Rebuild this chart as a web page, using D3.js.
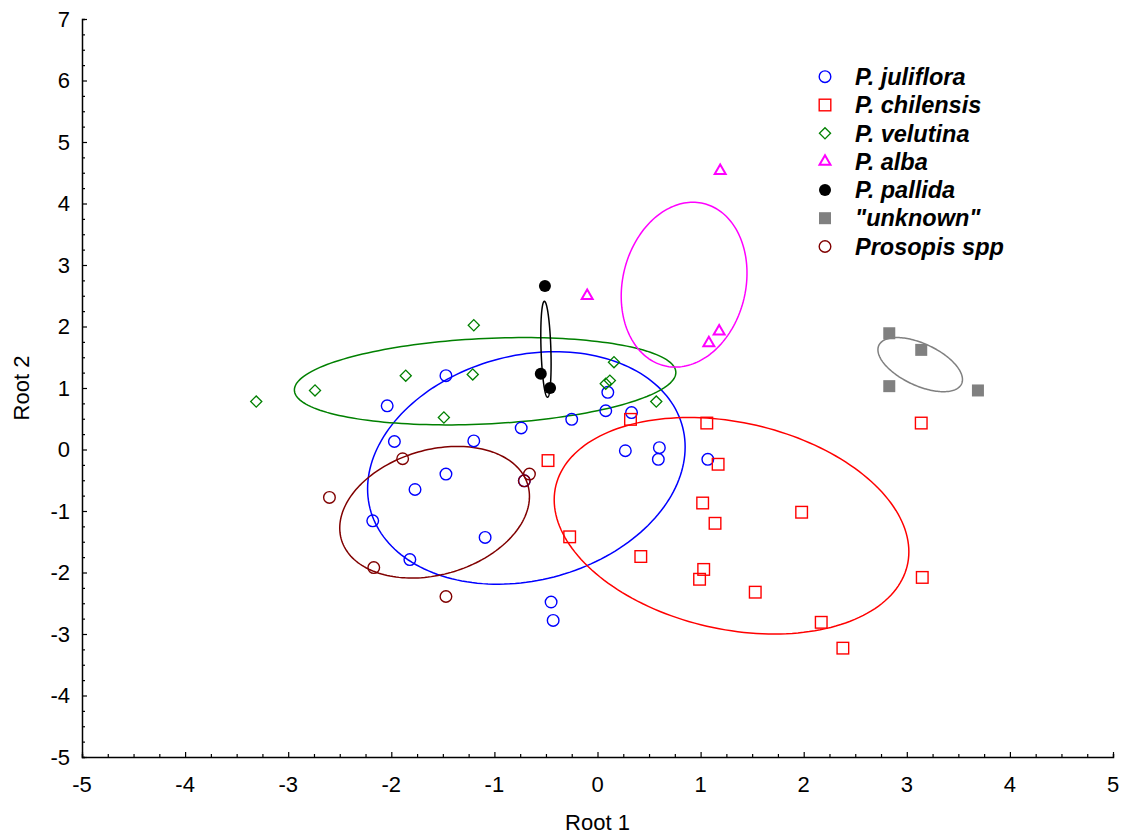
<!DOCTYPE html>
<html>
<head>
<meta charset="utf-8">
<script src="https://cdn.jsdelivr.net/npm/d3@7"></script>
<style>
  body { margin: 0; background: #fff; }
  svg { display: block; font-family: "Liberation Sans", Arial, sans-serif; }
</style>
</head>
<body>
<svg id="chart" width="1123" height="834"></svg>
<script>
// species names, in legend order
const species = ["P. juliflora", "P. chilensis", "P. velutina", "P. alba", "P. pallida", "\"unknown\"", "Prosopis spp"];

// root scores
const julifloraX = [-1.47, -2.04, -1.97, -1.20, -0.74, -0.25, 0.08, 0.10, 0.33, 0.27, 0.60, 0.59, -1.47, -1.77, -2.18, -1.09, -1.82, -0.71, -0.45, -0.43, 1.07];
const julifloraY = [1.20, 0.71, 0.13, 0.14, 0.35, 0.49, 0.63, 0.93, 0.60, -0.02, 0.03, -0.16, -0.40, -0.65, -1.16, -1.43, -1.79, -0.51, -2.48, -2.78, -0.16];

const chilensisX = [0.32, 1.06, 3.14, -0.48, 1.17, 1.02, 1.14, 1.98, -0.27, 0.42, 1.03, 0.99, 1.53, 3.15, 2.17, 2.38];
const chilensisY = [0.49, 0.43, 0.43, -0.18, -0.24, -0.87, -1.20, -1.02, -1.42, -1.74, -1.95, -2.11, -2.32, -2.08, -2.81, -3.23];

const velutinaX = [-3.31, -2.74, -1.86, -1.20, -1.21, -1.49, 0.16, 0.12, 0.08, 0.57];
const velutinaY = [0.78, 0.96, 1.20, 2.02, 1.22, 0.52, 1.42, 1.12, 1.07, 0.78];

const albaX = [1.19, -0.10, 1.18, 1.08];
const albaY = [4.53, 2.50, 1.92, 1.73];

const pallidaX = [-0.51, -0.55, -0.46];
const pallidaY = [2.66, 1.23, 1.00];

const unknownX = [2.83, 3.14, 2.83, 3.69];
const unknownY = [1.89, 1.62, 1.03, 0.96];

const sppX = [-2.60, -1.89, -0.66, -0.71, -2.17, -1.47];
const sppY = [-0.78, -0.15, -0.40, -0.51, -1.92, -2.39];

// group ellipses: centre, half-width, half-height, correlation (data units)
const ellipseCx = [-0.69, 1.30, -1.09, 0.84, -0.50, 3.13, -1.58];
const ellipseCy = [-0.30, -1.24, 1.11, 2.68, 1.63, 1.38, -1.02];
const ellipseSx = [1.54, 1.72, 1.85, 0.61, 0.05, 0.41, 0.92];
const ellipseSy = [1.89, 1.76, 0.71, 1.34, 0.78, 0.44, 1.07];
const ellipseR  = [0.18, -0.24, 0.20, 0.14, -0.3, -0.55, 0.24];

const xTicks = [-5, -4, -3, -2, -1, 0, 1, 2, 3, 4, 5];
const yTicks = [-5, -4, -3, -2, -1, 0, 1, 2, 3, 4, 5, 6, 7];

const colors = ["#0000ff", "#ff0000", "#008000", "#ff00ff", "#000000", "#808080", "#800000"];
const shapes = ["circle", "square", "diamond", "triangle", "dot", "block", "circle"];

const groups = [
  [julifloraX, julifloraY], [chilensisX, chilensisY], [velutinaX, velutinaY],
  [albaX, albaY], [pallidaX, pallidaY], [unknownX, unknownY], [sppX, sppY]
].map(([xs, ys], i) => ({
  name: species[i], color: colors[i], shape: shapes[i],
  points: xs.map((x, j) => ({ x: x, y: ys[j] }))
}));

const ellipses = ellipseCx.map((cx, i) => ({
  cx: cx, cy: ellipseCy[i], sx: ellipseSx[i], sy: ellipseSy[i], r: ellipseR[i], color: colors[i]
}));

const svg = d3.select("#chart");
const margin = { top: 19, left: 82 };

const x = d3.scaleLinear().domain([-5, 5]).range([margin.left, margin.left + 1031]);
const y = d3.scaleLinear().domain([-5, 7]).range([margin.top + 738, margin.top]);

// axes, ticks pointing into the plot
const xAxis = svg.append("g").attr("transform", "translate(0," + y(-5) + ")");
xAxis.call(d3.axisBottom(x).tickValues(d3.range(-5, 5.001, 0.25)).tickSize(-3).tickFormat(""));
xAxis.call(g => g.selectAll(".tick line").filter(d => Math.abs(d - Math.round(d)) < 1e-6).attr("y2", -5));
const yAxis = svg.append("g").attr("transform", "translate(" + x(-5) + ",0)");
yAxis.call(d3.axisLeft(y).tickValues(d3.range(-5, 7.001, 0.25)).tickSize(-3).tickFormat(""));
yAxis.call(g => g.selectAll(".tick line").filter(d => Math.abs(d - Math.round(d)) < 1e-6).attr("x2", 5));
svg.selectAll(".domain").attr("stroke", "#000").attr("stroke-width", 1.5);
svg.selectAll(".tick line").attr("stroke", "#000").attr("stroke-width", 1.2);

svg.append("g").selectAll("text").data(xTicks).join("text")
  .attr("x", d => x(d)).attr("y", y(-5) + 27).attr("dy", "0.35em")
  .attr("text-anchor", "middle").attr("font-size", 22).text(d => d);
svg.append("g").selectAll("text").data(yTicks).join("text")
  .attr("x", x(-5) - 12).attr("y", d => y(d)).attr("dy", "0.35em")
  .attr("text-anchor", "end").attr("font-size", 22).text(d => d);

svg.append("text").attr("x", (x(-5) + x(5)) / 2).attr("y", 822).attr("dy", "0.35em")
  .attr("text-anchor", "middle").attr("font-size", 22).text("Root 1");
svg.append("text").attr("transform", "translate(21," + (y(-5) + y(7)) / 2 + ") rotate(-90)")
  .attr("dy", "0.35em").attr("text-anchor", "middle").attr("font-size", 22).text("Root 2");

// ellipses
const angles = d3.range(0, 2 * Math.PI + 0.001, Math.PI / 90);
const line = d3.line();
svg.append("g").selectAll("path").data(ellipses).join("path")
  .attr("fill", "none").attr("stroke", d => d.color).attr("stroke-width", 1.5)
  .attr("d", e => line(angles.map(t => [
    x(e.cx + e.sx * Math.cos(t)),
    y(e.cy + e.sy * (e.r * Math.cos(t) + Math.sqrt(1 - e.r * e.r) * Math.sin(t)))
  ])));

function marker(sel, shape, color) {
  if (shape === "circle") {
    sel.append("circle").attr("r", 5.8).attr("fill", "none").attr("stroke", color).attr("stroke-width", 1.4);
  } else if (shape === "dot") {
    sel.append("circle").attr("r", 6).attr("fill", color);
  } else if (shape === "square") {
    sel.append("rect").attr("x", -5.8).attr("y", -5.8).attr("width", 11.6).attr("height", 11.6)
      .attr("fill", "none").attr("stroke", color).attr("stroke-width", 1.4);
  } else if (shape === "block") {
    sel.append("rect").attr("x", -6).attr("y", -6).attr("width", 12).attr("height", 12).attr("fill", color);
  } else if (shape === "diamond") {
    sel.append("path").attr("d", d3.symbol(d3.symbolSquare, 62)()).attr("transform", "rotate(45)")
      .attr("fill", "none").attr("stroke", color).attr("stroke-width", 1.3);
  } else if (shape === "triangle") {
    sel.append("path").attr("d", d3.symbol(d3.symbolTriangle, 52)())
      .attr("fill", "none").attr("stroke", color).attr("stroke-width", 2);
  }
}

// points
groups.forEach(gr => {
  svg.append("g").selectAll("g").data(gr.points).join("g")
    .attr("transform", d => "translate(" + x(d.x) + "," + y(d.y) + ")")
    .each(function () { marker(d3.select(this), gr.shape, gr.color); });
});

// legend
const legend = svg.append("g").selectAll("g").data(groups).join("g")
  .attr("transform", (d, i) => "translate(825," + (76.7 + i * 28.3) + ")");
legend.each(function (d) { marker(d3.select(this), d.shape, d.color); });
legend.append("text").attr("x", 30).attr("dy", "0.35em")
  .attr("font-size", 23.5).attr("font-weight", "bold").attr("font-style", "italic")
  .text(d => d.name);
</script>
</body>
</html>
